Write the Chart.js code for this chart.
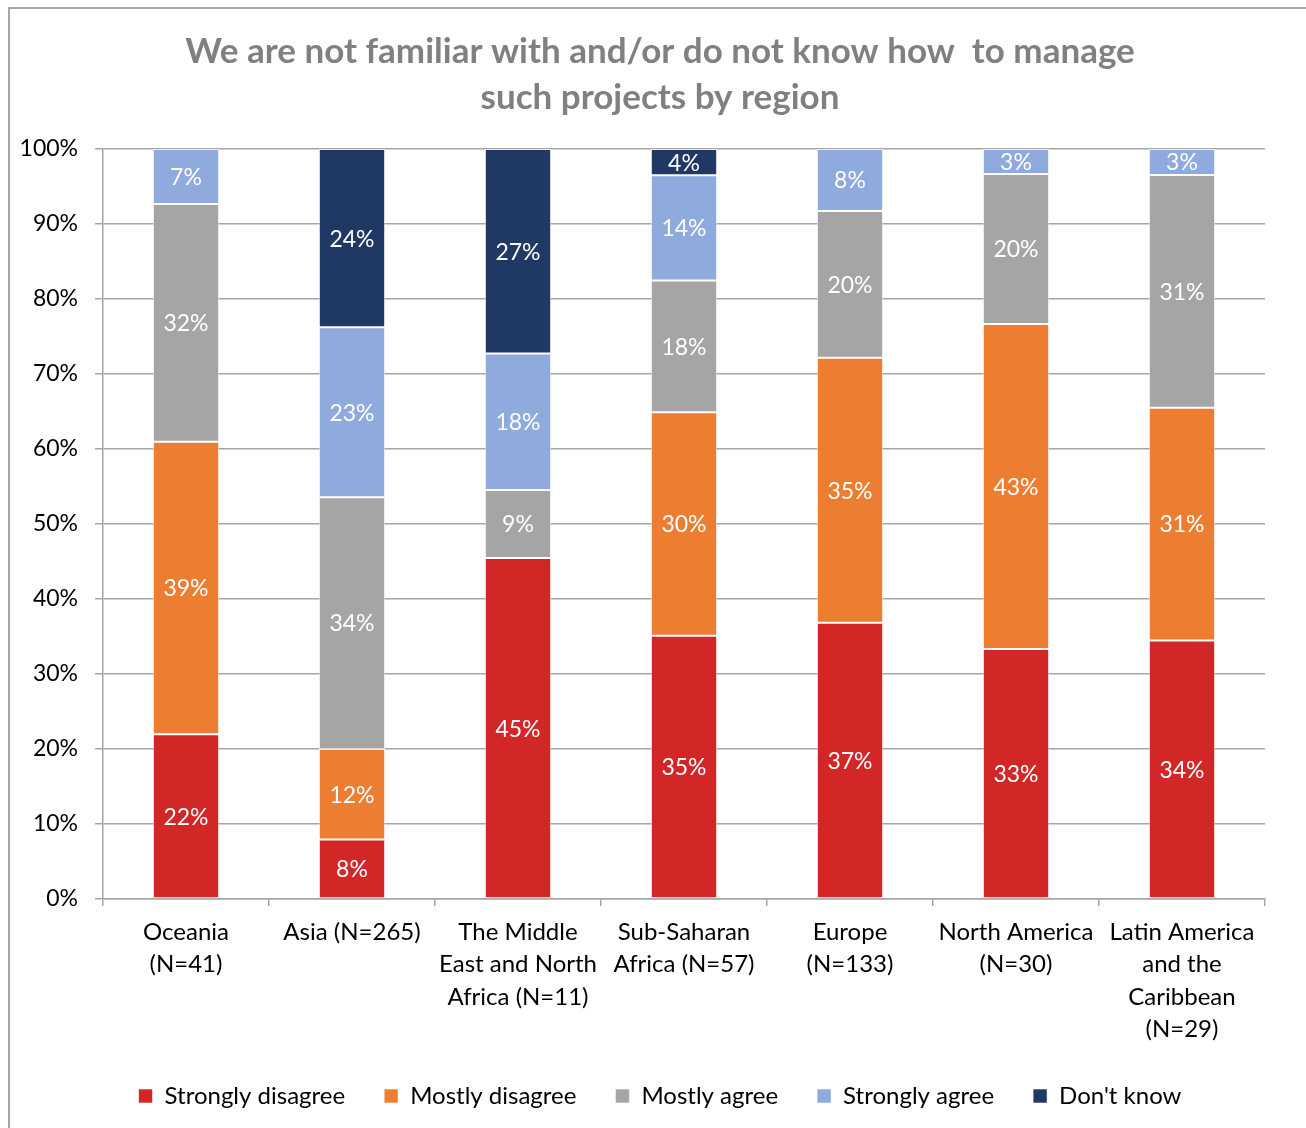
<!DOCTYPE html>
<html>
<head>
<meta charset="utf-8">
<script src="https://cdn.jsdelivr.net/npm/chart.js@4.4.1/dist/chart.umd.min.js"></script>
<style>
    html, body { margin: 0; padding: 0; background: #fff; }
    #wrap { position: relative; width: 1306px; height: 1128px; }
    #frame { position: absolute; left: 8px; top: 7px; right: 0; bottom: 0; border-left: 2px solid #a6a6a6; border-top: 2px solid #a6a6a6; pointer-events: none; }
    canvas { position: absolute; left: 0; top: 0; }
</style>
</head>
<body>
<div id="wrap">
    <canvas id="regionChart" width="1306" height="1128"></canvas>
    <div id="frame"></div>
</div>
<script>
// categories
const regions = [
    ['Oceania', '(N=41)'],
    ['Asia (N=265)'],
    ['The Middle', 'East and North', 'Africa (N=11)'],
    ['Sub-Saharan', 'Africa (N=57)'],
    ['Europe', '(N=133)'],
    ['North America', '(N=30)'],
    ['Latin America', 'and the', 'Caribbean', '(N=29)']
];

// series values, percent of respondents
const stronglyDisagree = [21.95, 7.92, 45.45, 35.09, 36.84, 33.33, 34.48];
const mostlyDisagree   = [39.02, 12.08, 0,     29.82, 35.34, 43.33, 31.03];
const mostlyAgree      = [31.71, 33.58, 9.09,  17.54, 19.55, 20.00, 31.03];
const stronglyAgree    = [7.32,  22.64, 18.18, 14.04, 8.27,  3.33,  3.45];
const dontKnow         = [0,     23.77, 27.27, 3.51,  0,     0,     0];

const yTicks = [0, 10, 20, 30, 40, 50, 60, 70, 80, 90, 100];

const FONT = 'Lato, "Open Sans", sans-serif';

// y labels are mirrored so they are not clipped by the narrow axis box;
// a negative padding puts them back to the left of the axis line
const measure = document.createElement('canvas').getContext('2d');
measure.font = '23px ' + FONT;
const widestTick = measure.measureText('100%').width;

// white percent labels in the middle of each segment
const segmentLabels = {
    id: 'segmentLabels',
    afterDatasetsDraw(chart) {
        const ctx = chart.ctx;
        ctx.save();
        ctx.fillStyle = '#ffffff';
        ctx.font = '23px ' + FONT;
        ctx.textAlign = 'center';
        ctx.textBaseline = 'middle';
        chart.data.datasets.forEach((ds, i) => {
            const meta = chart.getDatasetMeta(i);
            meta.data.forEach((bar, j) => {
                const v = ds.data[j];
                if (!v) return;
                const p = bar.getCenterPoint();
                ctx.fillText(Math.round(v) + '%', p.x, p.y + 1);
            });
        });
        ctx.restore();
    }
};

function makeSet(label, data, color) {
    return {
        label: label,
        data: data,
        backgroundColor: color,
        borderColor: 'rgba(255,255,255,0.6)',
        borderWidth: 1,
        borderSkipped: false,
        barPercentage: 0.8,
        categoryPercentage: 0.5
    };
}

const ctx = document.getElementById('regionChart').getContext('2d');
new Chart(ctx, {
    type: 'bar',
    data: {
        labels: regions,
        datasets: [
            makeSet('Strongly disagree', stronglyDisagree, '#d22627'),
            makeSet('Mostly disagree', mostlyDisagree, '#ed7d31'),
            makeSet('Mostly agree', mostlyAgree, '#a5a5a5'),
            makeSet('Strongly agree', stronglyAgree, '#8faadc'),
            makeSet("Don't know", dontKnow, '#1f3864')
        ]
    },
    options: {
        responsive: false,
        animation: false,
        layout: { padding: { left: 55, right: 41, top: 6, bottom: 10 } },
        plugins: {
            title: {
                display: true,
                text: ['We are not familiar with and/or do not know how  to manage', 'such projects by region'],
                color: '#808080',
                font: { family: FONT, size: 35, weight: 'bold', lineHeight: 1.314 },
                padding: { top: 23, bottom: 28 }
            },
            legend: {
                position: 'bottom',
                labels: {
                    color: '#000',
                    font: { family: FONT, size: 24 },
                    boxWidth: 14,
                    boxHeight: 14,
                    padding: 39
                }
            },
            tooltip: { enabled: false }
        },
        scales: {
            x: {
                stacked: true,
                grid: { display: true, drawOnChartArea: false, offset: true, color: '#a6a6a6', lineWidth: 1.5, tickLength: 7 },
                border: { color: '#a6a6a6', width: 1.5 },
                ticks: { color: '#000', font: { family: FONT, size: 24, lineHeight: 1.35 }, maxRotation: 0, autoSkip: false, padding: 10 },
                afterFit(scale) { scale.height = 146; }
            },
            y: {
                stacked: true,
                min: 0,
                max: 100,
                afterBuildTicks(scale) { scale.ticks = yTicks.map(v => ({ value: v })); },
                grid: { color: '#a6a6a6', lineWidth: 1.5, tickLength: 8 },
                border: { color: '#a6a6a6', width: 1.5 },
                ticks: {
                    color: '#000',
                    font: { family: FONT, size: 23 },
                    mirror: true,
                    crossAlign: 'far',
                    padding: -25 - widestTick,
                    callback: v => v + '%'
                },
                afterFit(scale) { scale.width = 48; }
            }
        }
    },
    plugins: [segmentLabels]
});
</script>
</body>
</html>
